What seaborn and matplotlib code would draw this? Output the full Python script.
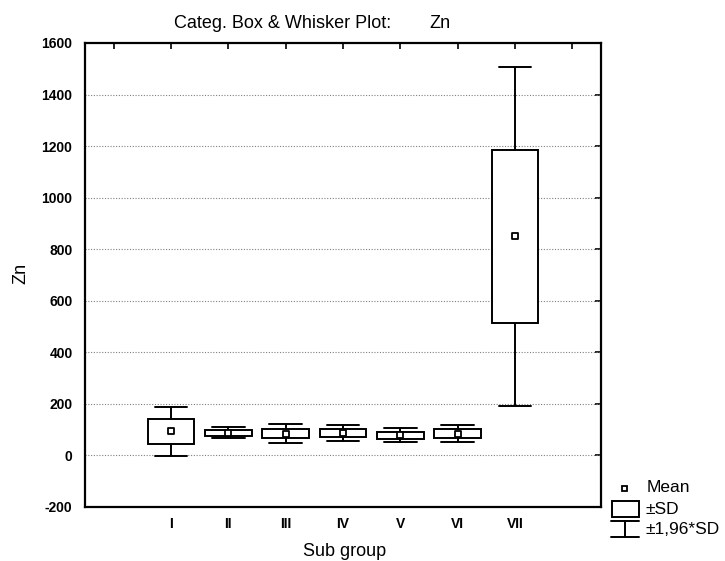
import numpy as np
import pandas as pd
import matplotlib
matplotlib.use("Agg")
import matplotlib.pyplot as plt
from matplotlib.patches import Rectangle
from matplotlib.lines import Line2D
import seaborn as sns

# Zn by sub group: mean and standard deviation
groups = ["I", "II", "III", "IV", "V", "VI", "VII"]
mean_zn = [93, 88, 85, 87, 78, 84, 850]
sd_zn = [48, 11, 19, 16, 14, 17, 336]
k_whisker = 1.96

y_ticks = [-200, 0, 200, 400, 600, 800, 1000, 1200, 1400, 1600]

sns.set_theme(style="white")
plt.rcParams["font.family"] = ["Liberation Sans", "DejaVu Sans"]
plt.rcParams["text.color"] = "black"
plt.rcParams["xtick.color"] = "black"
plt.rcParams["ytick.color"] = "black"

df = pd.DataFrame({"group": groups, "mean": mean_zn, "sd": sd_zn})
df["pos"] = np.arange(1, len(groups) + 1)

W, H = 725, 561
fig = plt.figure(figsize=(W / 100, H / 100), dpi=100)
ax = fig.add_axes([85 / W, 1 - 507 / H, (601 - 85) / W, (507 - 43) / H])

# mean ± SD boxes and mean ± 1.96*SD whiskers
stats = []
for _, r in df.iterrows():
    stats.append(dict(med=r["mean"], q1=r["mean"] - r["sd"], q3=r["mean"] + r["sd"],
                      whislo=r["mean"] - k_whisker * r["sd"],
                      whishi=r["mean"] + k_whisker * r["sd"],
                      fliers=[], label=r["group"]))
line_kw = dict(color="black", linewidth=1.4)
ax.bxp(stats, positions=df["pos"], widths=0.81, capwidths=0.57,
       showfliers=False, patch_artist=True,
       boxprops=dict(facecolor="white", edgecolor="black", linewidth=1.4),
       whiskerprops=line_kw, capprops=line_kw,
       medianprops=dict(linewidth=0), zorder=3)

sns.scatterplot(data=df, x="pos", y="mean", marker="s", s=16,
                facecolor="white", edgecolor="black", linewidth=1.3,
                ax=ax, zorder=5, legend=False)

ax.set_xlim(-0.5, 8.5)
ax.set_ylim(-200, 1600)
ax.set_xticks(np.arange(0, 9))
ax.set_xticklabels([""] + groups + [""])
ax.set_yticks(y_ticks)
ax.set_yticklabels([str(v) for v in y_ticks])

for v in y_ticks[1:-1]:
    ax.axhline(v, color="#808080", linestyle=(0, (1, 1.5)), linewidth=0.8, zorder=1)

ax.tick_params(direction="in", length=4, width=1.2, top=True, right=True,
               labelsize=10, pad=9)
for lab in ax.get_xticklabels() + ax.get_yticklabels():
    lab.set_fontweight("bold")
    lab.set_color("black")
ax.tick_params(axis="x", pad=7, labelsize=10)
for s in ax.spines.values():
    s.set_linewidth(1.6)
    s.set_color("black")

ax.set_xlabel("")
ax.set_ylabel("")
fig.text(21 / W, 1 - 273 / H, "Zn", rotation=90, ha="center", va="center", fontsize=13)
fig.text(345 / W, 1 - 552 / H, "Sub group", ha="center", va="center", fontsize=13)

title_kw = dict(fontsize=13, va="center")
fig.text(174 / W, 1 - 23 / H, "Categ. Box & Whisker Plot:", ha="left", **title_kw)
fig.text(429 / W, 1 - 23 / H, "Zn", ha="left", **title_kw)

# legend drawn in pixel units
lax = fig.add_axes([603 / W, 1 - 545 / H, 122 / W, 65 / H])
lax.set_xlim(603, 725)
lax.set_ylim(545, 480)
lax.axis("off")
lax.add_patch(Rectangle((622, 486), 4.5, 4.5, facecolor="white", edgecolor="black", linewidth=1.3))
lax.text(647, 488, "Mean", va="center", ha="left", fontsize=12.5)
lax.add_patch(Rectangle((612, 501), 27, 15.5, facecolor="white", edgecolor="black", linewidth=1.4))
lax.text(645, 510, "±SD", va="center", ha="left", fontsize=12.5)
lax.add_line(Line2D([611, 639], [521, 521], color="black", linewidth=1.4))
lax.add_line(Line2D([625, 625], [521, 537], color="black", linewidth=1.4))
lax.add_line(Line2D([611, 639], [537, 537], color="black", linewidth=1.4))
lax.text(645, 530, "±1,96*SD", va="center", ha="left", fontsize=12.5)

fig.savefig("out.png", dpi=100)
